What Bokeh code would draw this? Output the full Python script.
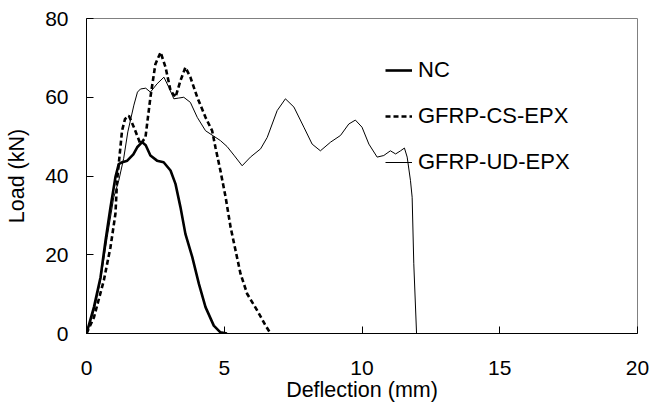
from bokeh.plotting import figure
from bokeh.models import Range1d, Legend, LegendItem, FixedTicker
from bokeh.embed import file_html
from bokeh.resources import INLINE

nc_x = [0, 0.27, 0.51, 0.69, 0.87, 1.05, 1.17, 1.3, 1.48, 1.7, 1.84, 2.02, 2.15, 2.32, 2.56, 2.8, 3.05, 3.23, 3.41, 3.59, 3.84, 4.08, 4.32, 4.62, 4.86, 5.1]
nc_y = [0, 6.7, 14.3, 23.6, 32, 39.7, 43, 43.5, 43.9, 45.5, 47.3, 48.6, 47.8, 45.2, 43.9, 43.5, 41.4, 38, 32.1, 25.3, 19.4, 12.6, 6.7, 2, 0.3, 0]

cs_x = [0, 0.27, 0.63, 0.87, 1.05, 1.11, 1.17, 1.29, 1.4, 1.54, 1.72, 1.96, 2.14, 2.32, 2.5, 2.69, 2.87, 3.05, 3.23, 3.41, 3.59, 3.77, 4.02, 4.32, 4.56, 4.68, 4.86, 5.05, 5.23, 5.41, 5.59, 5.83, 6.2, 6.5, 6.68]
cs_y = [0, 4.1, 13.5, 21.9, 30.4, 38.8, 43, 51.5, 54.5, 55.3, 52.4, 48.1, 49.8, 60, 68.4, 71.4, 67.6, 61.7, 60, 64.2, 67.6, 65.1, 60, 54.9, 51.5, 47.3, 41.4, 34.6, 27, 21.1, 15.2, 10.1, 5.8, 2, 0]

ud_x = [0, 0.27, 0.51, 0.75, 0.99, 1.17, 1.35, 1.5, 1.72, 1.85, 1.96, 2.15, 2.32, 2.56, 2.81, 2.99, 3.17, 3.35, 3.53, 3.77, 4.02, 4.32, 4.6, 4.86, 5.1, 5.35, 5.65, 5.95, 6.32, 6.56, 6.92, 7.22, 7.53, 7.89, 8.19, 8.49, 8.86, 9.22, 9.52, 9.76, 10.0, 10.25, 10.55, 10.79, 11.03, 11.22, 11.4, 11.54, 11.64, 11.76, 11.82, 11.88, 11.98]
ud_y = [0, 5.8, 13.5, 24.4, 34.6, 38.8, 44.5, 51.2, 58, 61.3, 62.1, 62.3, 61.3, 63.4, 65.1, 62.5, 59.6, 59.8, 60, 58.7, 54.9, 51.5, 50.2, 49, 47.5, 45.3, 42.6, 44.8, 46.9, 49.8, 56.6, 59.6, 57.5, 52.4, 48.1, 46.4, 48.6, 50.3, 53.2, 54.2, 52.4, 48.1, 44.8, 45.2, 46.4, 45.6, 46.4, 47.1, 44.8, 38.8, 34.6, 17.7, 0]

x_ticks = [0, 5, 10, 15, 20]
y_ticks = [0, 20, 40, 60, 80]
labels = ["NC", "GFRP-CS-EPX", "GFRP-UD-EPX"]

FONT = "Liberation Sans"

p = figure(frame_width=551, frame_height=315, output_backend="svg", toolbar_location=None,
           x_range=Range1d(0, 20), y_range=Range1d(0, 80),
           min_border_left=86, min_border_right=30, min_border_top=18, min_border_bottom=70)
p.xgrid.visible = False
p.ygrid.visible = False
p.outline_line_color = "#808080"
p.outline_line_width = 1
p.background_fill_color = "white"
p.border_fill_color = "white"

r1 = p.line(nc_x, nc_y, line_color="black", line_width=2.6, line_join="round")
r2 = p.line(cs_x, cs_y, line_color="black", line_width=2.6, line_dash="5 3")
r3 = p.line(ud_x, ud_y, line_color="black", line_width=1, line_join="round")

for ax in (p.xaxis[0], p.yaxis[0]):
    ax.axis_line_color = "black"
    ax.major_tick_in = 7
    ax.major_tick_out = 0
    ax.minor_tick_in = 0
    ax.minor_tick_out = 0
    ax.major_tick_line_color = "black"
    ax.major_label_text_font = FONT
    ax.major_label_text_font_size = "21px"
    ax.major_label_text_color = "black"
    ax.axis_label_text_font = FONT
    ax.axis_label_text_font_size = "21.5px"
    ax.axis_label_text_font_style = "normal"
    ax.axis_label_text_color = "black"

p.xaxis.ticker = FixedTicker(ticks=x_ticks)
p.yaxis.ticker = FixedTicker(ticks=y_ticks)
p.xaxis.axis_label = "Deflection (mm)"
p.yaxis.axis_label = "Load (kN)"
p.xaxis.major_label_standoff = 27
p.yaxis.major_label_standoff = 18
p.xaxis.axis_label_standoff = 0
p.yaxis.axis_label_standoff = 13

legend = Legend(items=[LegendItem(label=labels[0], renderers=[r1]),
                       LegendItem(label=labels[1], renderers=[r2]),
                       LegendItem(label=labels[2], renderers=[r3])],
                location=(299, 158))
legend.border_line_color = None
legend.background_fill_alpha = 0
legend.padding = 0
legend.margin = 0
legend.glyph_width = 27
legend.glyph_height = 26
legend.label_height = 26
legend.spacing = 20
legend.label_standoff = 6
legend.label_text_font = FONT
legend.label_text_font_size = "22px"
legend.label_text_color = "black"
p.add_layout(legend)

open("out.html", "w").write(file_html(p, INLINE))
